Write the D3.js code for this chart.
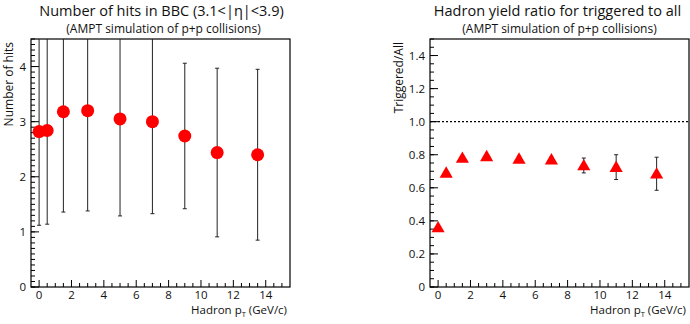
<!DOCTYPE html>
<html>
<head>
<meta charset="utf-8">
<script src="https://cdn.jsdelivr.net/npm/d3@7"></script>
<style>
  body { margin: 0; background: #fff; }
  svg { display: block; font-family: "Open Sans", "Noto Sans", sans-serif; }
  text { fill: #111; }
</style>
</head>
<body>
<svg id="chart" width="690" height="324"></svg>
<script>
// pT bins shared by both panels
const ptValues = [0, 0.5, 1.5, 3, 5, 7, 9, 11, 13.5];

// left panel: number of BBC hits
const hitsMean = [2.82, 2.84, 3.18, 3.20, 3.05, 3.00, 2.74, 2.44, 2.40];
const hitsErr  = [1.70, 1.70, 1.82, 1.82, 1.76, 1.67, 1.32, 1.53, 1.55];

// right panel: triggered / all ratio
const ratioMean = [0.36, 0.69, 0.78, 0.79, 0.775, 0.77, 0.735, 0.725, 0.685];
const ratioErr  = [0.01, 0.01, 0.01, 0.01, 0.015, 0.015, 0.045, 0.075, 0.10];

const xTicks = [0, 2, 4, 6, 8, 10, 12, 14];
const hitsTicks = [0, 1, 2, 3, 4];
const ratioTicks = [0, 0.2, 0.4, 0.6, 0.8, 1.0, 1.2, 1.4];

const svg = d3.select("#chart");

function drawPanel(opts) {
    const x = d3.scaleLinear().domain([-0.5, 15.5]).range([opts.left, opts.right]);
    const y = d3.scaleLinear().domain(opts.yDomain).range([opts.bottom, opts.top]);
    const g = svg.append("g");

    // minor x ticks every 0.5
    const xMinor = d3.range(0, 15.01, 0.5).filter(v => v % 2 !== 0);
    g.selectAll(".xminor").data(xMinor).enter().append("line")
        .attr("x1", d => x(d)).attr("x2", d => x(d))
        .attr("y1", opts.bottom).attr("y2", opts.bottom - 4)
        .attr("stroke", "#000").attr("stroke-width", 1);
    g.selectAll(".xmajor").data(xTicks).enter().append("line")
        .attr("x1", d => x(d)).attr("x2", d => x(d))
        .attr("y1", opts.bottom).attr("y2", opts.bottom - 7)
        .attr("stroke", "#000").attr("stroke-width", 1);
    g.selectAll(".xlab").data(xTicks).enter().append("text")
        .attr("x", d => x(d)).attr("y", opts.bottom + 12)
        .attr("text-anchor", "middle").attr("font-size", 11.5)
        .text(d => d);

    // y ticks
    g.selectAll(".yminor").data(opts.yMinor).enter().append("line")
        .attr("x1", opts.left).attr("x2", opts.left + 4)
        .attr("y1", d => y(d)).attr("y2", d => y(d))
        .attr("stroke", "#000").attr("stroke-width", 1);
    g.selectAll(".ymajor").data(opts.yTicks).enter().append("line")
        .attr("x1", opts.left).attr("x2", opts.left + 8)
        .attr("y1", d => y(d)).attr("y2", d => y(d))
        .attr("stroke", "#000").attr("stroke-width", 1);
    g.selectAll(".ylab").data(opts.yTicks).enter().append("text")
        .attr("x", opts.left - 5).attr("y", d => y(d) + 4)
        .attr("text-anchor", "end").attr("font-size", 11.5)
        .text(opts.yFormat);

    // frame
    g.append("rect")
        .attr("x", opts.left).attr("y", opts.top)
        .attr("width", opts.right - opts.left).attr("height", opts.bottom - opts.top)
        .attr("fill", "none").attr("stroke", "#000").attr("stroke-width", 1.2);

    // titles
    const cx = (opts.left + opts.right) / 2;
    g.append("text").attr("x", cx + opts.titleShift).attr("y", 16)
        .attr("text-anchor", "middle").attr("font-size", 14.5)
        .text(opts.title);
    g.append("text").attr("x", cx + opts.titleShift + 2).attr("y", 33)
        .attr("text-anchor", "middle").attr("font-size", 12)
        .text("(AMPT simulation of p+p collisions)");

    // axis titles
    const xt = g.append("text").attr("x", opts.right - 3).attr("y", 314)
        .attr("text-anchor", "end").attr("font-size", 11.5);
    xt.append("tspan").text("Hadron p");
    xt.append("tspan").attr("font-size", 7.5).attr("dy", 3).text("T");
    xt.append("tspan").attr("dy", -3).text(" (GeV/c)");

    g.append("text")
        .attr("transform", `translate(${opts.yTitleX},${opts.top + 3}) rotate(-90)`)
        .attr("text-anchor", "end").attr("font-size", 12)
        .text(opts.yTitle);

    // clip for data
    const clipId = "clip" + Math.round(opts.left);
    svg.append("clipPath").attr("id", clipId).append("rect")
        .attr("x", opts.left).attr("y", opts.top)
        .attr("width", opts.right - opts.left).attr("height", opts.bottom - opts.top);
    const d = g.append("g").attr("clip-path", `url(#${clipId})`);

    if (opts.refLine !== undefined) {
        d.append("line")
            .attr("x1", opts.left).attr("x2", opts.right)
            .attr("y1", y(opts.refLine)).attr("y2", y(opts.refLine))
            .attr("stroke", "#000").attr("stroke-width", 1.2)
            .attr("stroke-dasharray", "2,2");
    }

    const pts = ptValues.map((p, i) => ({ x: p, v: opts.mean[i], e: opts.err[i] }));

    d.selectAll(".ebar").data(pts).enter().append("line")
        .attr("x1", p => x(p.x)).attr("x2", p => x(p.x))
        .attr("y1", p => y(p.v - p.e)).attr("y2", p => y(p.v + p.e))
        .attr("stroke", "#222").attr("stroke-width", 1);
    [-1, 1].forEach(s => {
        d.selectAll(".cap" + s).data(pts).enter().append("line")
            .attr("x1", p => x(p.x) - 2).attr("x2", p => x(p.x) + 2)
            .attr("y1", p => y(p.v + s * p.e)).attr("y2", p => y(p.v + s * p.e))
            .attr("stroke", "#222").attr("stroke-width", 1);
    });

    if (opts.marker === "circle") {
        d.selectAll(".pt").data(pts).enter().append("circle")
            .attr("cx", p => x(p.x)).attr("cy", p => y(p.v)).attr("r", 6.5)
            .attr("fill", "#ff0000");
    } else {
        const tri = d3.symbol().type(d3.symbolTriangle).size(75);
        d.selectAll(".pt").data(pts).enter().append("path")
            .attr("d", tri)
            .attr("transform", p => `translate(${x(p.x)},${y(p.v) + 1})`)
            .attr("fill", "#ff0000");
    }
}

drawPanel({
    left: 31, right: 290, top: 39, bottom: 287,
    yDomain: [0, 4.5],
    yTicks: hitsTicks,
    yMinor: d3.range(0, 4.51, 0.1).map(v => +v.toFixed(1)),
    yFormat: d => d,
    mean: hitsMean, err: hitsErr,
    marker: "circle",
    title: "Number of hits in BBC (3.1<|η|<3.9)",
    titleShift: 1,
    yTitle: "Number of hits",
    yTitleX: 13
});

drawPanel({
    left: 430, right: 689, top: 39, bottom: 287,
    yDomain: [0, 1.5],
    yTicks: ratioTicks,
    yMinor: d3.range(0, 1.51, 0.05).map(v => +v.toFixed(2)),
    yFormat: d => d === 0 ? "0" : d3.format(".1f")(d),
    mean: ratioMean, err: ratioErr,
    marker: "triangle",
    refLine: 1.0,
    title: "Hadron yield ratio for triggered to all",
    titleShift: -2,
    yTitle: "Triggered/All",
    yTitleX: 403
});
</script>
</body>
</html>
